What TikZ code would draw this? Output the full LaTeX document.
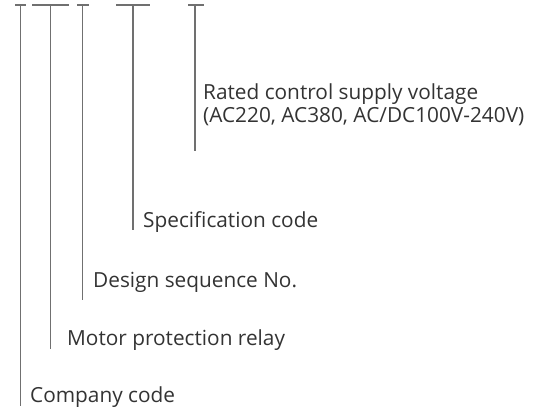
\documentclass[tikz,border=0pt]{standalone}
\usepackage{fontspec}
\setmainfont{Open Sans}
\definecolor{linegray}{HTML}{707070}
\definecolor{txtgray}{HTML}{333333}
\begin{document}
\begin{tikzpicture}[x=1pt,y=-1pt,
  lbl/.style={anchor=base west,inner sep=0pt,text=txtgray,font=\fontsize{20.8}{23}\selectfont,align=left},
  bar/.style={draw=linegray,line width=1.5pt}]
\useasboundingbox (0,0) rectangle (552,412);
% top bars
\coordinate (b1l) at (15,5); \coordinate (b1r) at (26,5); \coordinate (v1) at (20.5,5);
\coordinate (b2l) at (32,5); \coordinate (b2r) at (69,5); \coordinate (v2) at (50.5,5);
\coordinate (b3l) at (77,5); \coordinate (b3r) at (89,5); \coordinate (v3) at (82.5,5);
\coordinate (b4l) at (116,5); \coordinate (b4r) at (150,5); \coordinate (v4) at (133,5);
\coordinate (b5l) at (188,5); \coordinate (b5r) at (204,5); \coordinate (v5) at (195,5);
% bottoms
\coordinate (e1) at (20.5,406);
\coordinate (e2) at (50.5,349);
\coordinate (e3) at (82.5,300);
\coordinate (e4) at (133,230);
\coordinate (e5) at (195,151);
% labels
\node[lbl] (t1) at (30,402) {Company code};
\node[lbl] (t2) at (67,345) {Motor protection relay};
\node[lbl] (t3) at (93,287) {Design sequence No.};
\node[lbl] (t4) at (143,227) {Specification code};
\node[lbl] (t5) at (203,122) {Rated control supply voltage\\(AC220, AC380, AC/DC100V-240V)};
\foreach \i in {1,...,5}{
  \draw[bar] (b\i l) -- (b\i r);
  \draw[bar] (v\i) -- (e\i);
}
\end{tikzpicture}
\end{document}
